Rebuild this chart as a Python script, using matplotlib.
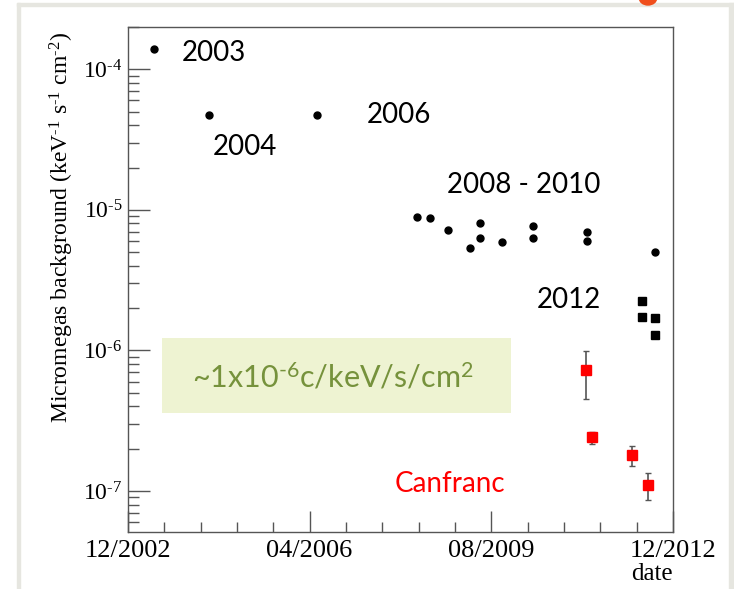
import datetime as dt
import matplotlib
matplotlib.use("Agg")
import matplotlib.pyplot as plt
import matplotlib.dates as mdates
from matplotlib.ticker import LogLocator, FuncFormatter, NullFormatter
from matplotlib.patches import Rectangle, Circle
import numpy as np

# --- data -------------------------------------------------------------
surface_dates = ["2003-05-22", "2004-05-25", "2006-05-22",
                 "2008-03-19", "2008-06-13", "2008-10-13", "2009-03-13",
                 "2009-05-16", "2009-05-16", "2009-10-13", "2010-05-10",
                 "2010-05-10", "2011-05-07", "2011-05-07", "2012-08-04"]
surface_bkg = [1.39e-4, 4.73e-5, 4.73e-5,
               8.87e-6, 8.74e-6, 7.17e-6, 5.39e-6,
               8.04e-6, 6.35e-6, 5.95e-6, 7.70e-6,
               6.35e-6, 6.94e-6, 6.05e-6, 5.02e-6]

run2012_dates = ["2012-05-04", "2012-05-04", "2012-08-04", "2012-08-04"]
run2012_bkg = [2.24e-6, 1.73e-6, 1.70e-6, 1.29e-6]

canfranc_dates = ["2011-04-25", "2011-06-07", "2012-03-04", "2012-06-16"]
canfranc_bkg = [7.21e-7, 2.42e-7, 1.80e-7, 1.10e-7]
canfranc_err_up = [9.84e-7, 2.63e-7, 2.10e-7, 1.33e-7]
canfranc_err_lo = [4.49e-7, 2.15e-7, 1.51e-7, 8.55e-8]

major_tick_dates = ["2002-12-01", "2006-04-01", "2009-08-01", "2012-12-01"]
major_tick_labels = ["12/2002", "04/2006", "08/2009", "12/2012"]

HY = "\u2010"  # typographic hyphen, kept short like the ROOT exponent dash


def to_num(dates):
    return [mdates.date2num(dt.datetime.strptime(d, "%Y-%m-%d")) for d in dates]


def pow10_label(v, pos):
    e = int(round(np.log10(v)))
    sign = HY if e < 0 else ""
    return r"10$^{\mathregular{%s%d}}$" % (sign, abs(e))


# --- figure -----------------------------------------------------------
plt.rcParams["font.family"] = ["Liberation Serif", "DejaVu Serif"]
plt.rcParams["mathtext.fontset"] = "custom"
plt.rcParams["mathtext.rm"] = "Liberation Serif"
plt.rcParams["mathtext.it"] = "Liberation Serif:italic"
plt.rcParams["axes.unicode_minus"] = False

fig = plt.figure(figsize=(7.34, 5.89), dpi=100)
fig.patch.set_facecolor("white")

# slide frame
frame_col = "#e6e6e0"
fig.patches.append(Rectangle((17 / 734, 0), 2.5 / 734, 1 - 3 / 589,
                             transform=fig.transFigure, color=frame_col, zorder=0))
fig.patches.append(Rectangle((17 / 734, 1 - 5.5 / 589), 1 - 17 / 734, 2.5 / 589,
                             transform=fig.transFigure, color=frame_col, zorder=0))
fig.patches.append(Rectangle((1 - 5.5 / 734, 0), 5.5 / 734, 1 - 3 / 589,
                             transform=fig.transFigure, color=frame_col, zorder=0))
fig.patches.append(Circle((648 / 734, 1 + 2 / 589), 7 / 589,
                          transform=fig.transFigure, color="#f04e1c", zorder=1))

ax = fig.add_axes([128 / 734, 1 - 532 / 589, 545 / 734, 505 / 589])

x_major = to_num(major_tick_dates)
ax.set_xlim(x_major[0], x_major[-1])
ax.set_yscale("log")
ax.set_ylim(5.1e-8, 2.0e-4)

# x ticks: 3 major intervals, 5 minor divisions each
ax.set_xticks(x_major)
ax.set_xticklabels(major_tick_labels)
minor = []
for a, b in zip(x_major[:-1], x_major[1:]):
    minor += [a + (b - a) * k / 5 for k in range(1, 5)]
ax.set_xticks(minor, minor=True)

ax.yaxis.set_major_locator(LogLocator(base=10))
ax.yaxis.set_major_formatter(FuncFormatter(pow10_label))
ax.yaxis.set_minor_locator(LogLocator(base=10, subs=range(2, 10)))
ax.yaxis.set_minor_formatter(NullFormatter())

spine_col = "#555555"
for s in ax.spines.values():
    s.set_color(spine_col)
    s.set_linewidth(1.0)
ax.tick_params(which="major", direction="in", length=15, width=1.0, color=spine_col)
ax.tick_params(which="minor", direction="in", length=7, width=1.0, color=spine_col)
ax.tick_params(axis="x", which="major", labelsize=19, pad=6)
ax.tick_params(axis="y", which="major", length=16, pad=4, labelsize=17)
ax.tick_params(axis="y", which="minor", length=8)

ax.set_ylabel(r"Micromegas background (keV$^{\mathregular{%s1}}$ s$^{\mathregular{%s1}}$ "
              r"cm$^{\mathregular{%s2}}$)" % (HY, HY, HY), fontsize=17, loc="top")
ax.yaxis.set_label_coords(-0.096, 0.99)
ax.set_xlabel("date", fontsize=18, loc="right")
ax.xaxis.set_label_coords(1.0, -0.062)

# --- marks ------------------------------------------------------------
ax.plot(to_num(surface_dates), surface_bkg, "o", color="black", markersize=5,
        linestyle="none", zorder=3)
ax.plot(to_num(run2012_dates), run2012_bkg, "s", color="black", markersize=6,
        linestyle="none", zorder=3)
yerr = [[v - lo for v, lo in zip(canfranc_bkg, canfranc_err_lo)],
        [hi - v for v, hi in zip(canfranc_bkg, canfranc_err_up)]]
ax.errorbar(to_num(canfranc_dates), canfranc_bkg, yerr=yerr, fmt="s",
            color="#ff0000", markersize=6.5, ecolor="#555555", elinewidth=1.2,
            capsize=2.5, capthick=1.0, zorder=3)

# --- annotations ------------------------------------------------------
lab_font = "Lato"
ax.text(0.099, 0.949, "2003", transform=ax.transAxes, fontsize=20,
        family=lab_font, va="center", ha="left")
ax.text(0.156, 0.762, "2004", transform=ax.transAxes, fontsize=20,
        family=lab_font, va="center", ha="left")
ax.text(0.4385, 0.826, "2006", transform=ax.transAxes, fontsize=20,
        family=lab_font, va="center", ha="left")
ax.text(0.585, 0.687, "2008 - 2010", transform=ax.transAxes, fontsize=20,
        family=lab_font, va="center", ha="left")
ax.text(0.750, 0.459, "2012", transform=ax.transAxes, fontsize=20,
        family=lab_font, va="center", ha="left")
ax.text(0.490, 0.095, "Canfranc", transform=ax.transAxes, fontsize=20,
        family=lab_font, va="center", ha="left", color="#ff0000")

ax.add_patch(Rectangle((0.0625, 0.236), 0.640, 0.148, transform=ax.transAxes,
                       facecolor="#eef3d2", edgecolor="none", zorder=1))
ax.text(0.117, 0.307, r"~1x10$^{\mathregular{%s6}}$c/keV/s/cm$^{\mathregular{2}}$" % HY,
        transform=ax.transAxes, fontsize=22, family=lab_font, va="center",
        ha="left", color="#76923c", zorder=2)

fig.savefig("out.png", dpi=100)
